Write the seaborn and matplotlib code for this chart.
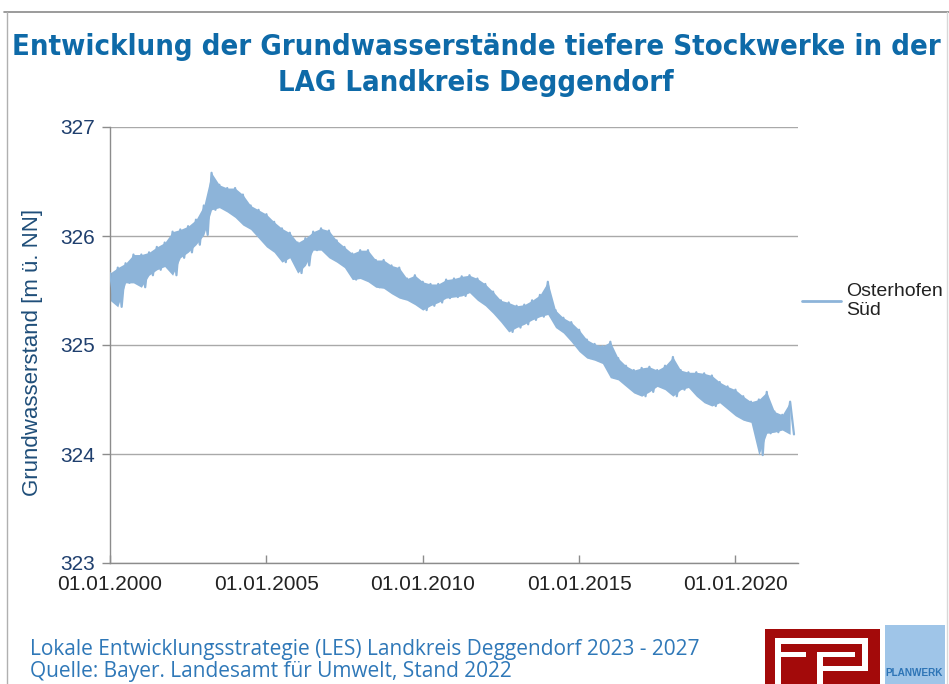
import numpy as np
import pandas as pd
import matplotlib
matplotlib.use("Agg")
import matplotlib.pyplot as plt
import matplotlib.dates as mdates
from matplotlib.patches import Rectangle
from matplotlib.lines import Line2D
import seaborn as sns

# ---------------- data ----------------
series_name = "Osterhofen\nSüd"
first_quarter = "2000-01-01"
# quarterly upper envelope of the daily groundwater level [m ü. NN], 2000Q1 .. 2021Q4
level_high = [
    325.66, 325.71, 325.75, 325.83,
    325.83, 325.85, 325.90, 325.94,
    326.04, 326.06, 326.09, 326.15,
    326.28, 326.58, 326.47, 326.44,
    326.44, 326.38, 326.28, 326.24,
    326.20, 326.13, 326.07, 326.03,
    325.94, 325.98, 326.04, 326.07,
    326.05, 325.96, 325.90, 325.84,
    325.87, 325.87, 325.78, 325.78,
    325.73, 325.71, 325.61, 325.64,
    325.58, 325.56, 325.56, 325.60,
    325.61, 325.63, 325.64, 325.61,
    325.56, 325.49, 325.41, 325.39,
    325.36, 325.37, 325.41, 325.46,
    325.58, 325.32, 325.25, 325.21,
    325.14, 325.05, 325.01, 324.99,
    325.03, 324.88, 324.81, 324.77,
    324.79, 324.80, 324.77, 324.81,
    324.89, 324.77, 324.75, 324.75,
    324.74, 324.72, 324.66, 324.62,
    324.59, 324.53, 324.48, 324.50,
    324.57, 324.39, 324.36, 324.48,
]
# quarterly lower envelope
level_low = [
    325.41, 325.35, 325.57, 325.57,
    325.53, 325.64, 325.69, 325.72,
    325.64, 325.80, 325.85, 325.92,
    326.01, 326.24, 326.26, 326.22,
    326.17, 326.10, 326.06, 325.98,
    325.90, 325.85, 325.76, 325.80,
    325.66, 325.73, 325.87, 325.87,
    325.80, 325.76, 325.71, 325.60,
    325.61, 325.58, 325.53, 325.52,
    325.47, 325.43, 325.41, 325.37,
    325.32, 325.36, 325.39, 325.43,
    325.44, 325.45, 325.48, 325.41,
    325.36, 325.29, 325.21, 325.12,
    325.16, 325.19, 325.23, 325.26,
    325.28, 325.16, 325.11, 325.03,
    324.94, 324.88, 324.86, 324.83,
    324.70, 324.68, 324.62, 324.56,
    324.53, 324.57, 324.62, 324.59,
    324.53, 324.59, 324.61, 324.53,
    324.47, 324.44, 324.47, 324.41,
    324.35, 324.31, 324.29, 323.99,
    324.19, 324.20, 324.22, 324.18,
]
y_ticks = [323, 324, 325, 326, 327]
x_tick_dates = ["2000-01-01", "2005-01-01", "2010-01-01", "2015-01-01", "2020-01-01"]
x_limits = ["2000-01-01", "2022-01-01"]

title = "Entwicklung der Grundwasserstände tiefere Stockwerke in der\nLAG Landkreis Deggendorf"
y_label = "Grundwasserstand [m ü. NN]"
footer1 = "Lokale Entwicklungsstrategie (LES) Landkreis Deggendorf 2023 - 2027"
footer2 = "Quelle: Bayer. Landesamt für Umwelt, Stand 2022"

# ---------------- build table ----------------
q_dates = pd.date_range(first_quarter, periods=len(level_high), freq="QS")
mid_dates = q_dates + pd.Timedelta(days=45)
dates = np.empty(2 * len(q_dates), dtype="datetime64[ns]")
dates[0::2] = q_dates.values
dates[1::2] = mid_dates.values
vals = np.empty(2 * len(q_dates))
vals[0::2] = level_high
vals[1::2] = level_low
df = pd.DataFrame({"Datum": dates, "Grundwasserstand": vals})

# ---------------- style ----------------
sns.set_theme(style="white")
plt.rcParams["font.family"] = ["Liberation Sans", "DejaVu Sans"]

LINE = "#8db4d9"
W, H = 949, 684
fig = plt.figure(figsize=(W / 100, H / 100), dpi=100)
fig.patch.set_facecolor("white")

ax = fig.add_axes([110 / W, 1 - 563 / H, (798 - 110) / W, (563 - 127) / H])
ax.set_facecolor("white")

ax.fill_between(q_dates, level_low, level_high, color=LINE, lw=0, alpha=1.0, zorder=2)
sns.lineplot(data=df, x="Datum", y="Grundwasserstand", ax=ax, color=LINE,
             lw=1.6, estimator=None, sort=False, zorder=3)

ax.set_xlim(pd.Timestamp(x_limits[0]), pd.Timestamp(x_limits[1]))
ax.set_ylim(y_ticks[0], y_ticks[-1])
ax.set_yticks(y_ticks)
ax.set_xticks([pd.Timestamp(d) for d in x_tick_dates])
ax.xaxis.set_major_formatter(mdates.DateFormatter("%d.%m.%Y"))

ax.grid(axis="y", color="#a9a9a9", lw=1.0)
ax.grid(axis="x", visible=False)
ax.set_axisbelow(True)
for s in ["top", "right"]:
    ax.spines[s].set_visible(False)
for s in ["left", "bottom"]:
    ax.spines[s].set_color("#8c8c8c")
    ax.spines[s].set_linewidth(1.0)

ax.tick_params(axis="y", direction="out", length=6, width=1, color="#8c8c8c",
               labelsize=15, labelcolor="#1f3f6e", pad=5, left=True)
ax.tick_params(axis="x", direction="in", length=6, width=1, color="#8c8c8c",
               labelsize=15, labelcolor="#222222", pad=9, bottom=True)
ax.set_xlabel("")
ax.set_ylabel(y_label, fontsize=16, color="#1f4e79")
ax.yaxis.set_label_coords(-0.097, 0.484)

# legend
handle = Line2D([], [], color=LINE, lw=2)
leg = ax.legend([handle], [series_name], loc="center left",
                bbox_to_anchor=(802 / W, 1 - 301 / H), bbox_transform=fig.transFigure,
                frameon=False, fontsize=14, handlelength=2.0, handletextpad=0.25,
                borderaxespad=0, borderpad=0, labelcolor="#222222")

# title
fig.text(476 / W, 1 - 65 / H, title, ha="center", va="center", fontsize=21,
         fontweight="bold", color="#0e6aa8", family="DejaVu Sans",
         fontstretch="condensed", linespacing=1.35)

# footer
fig.text(30 / W, 1 - 650 / H, footer1, ha="left", va="center", fontsize=15,
         color="#2f78b8", family="Open Sans")
fig.text(30 / W, 1 - 672 / H, footer2, ha="left", va="center", fontsize=15,
         color="#2f78b8", family="Open Sans")

# slide frame
fig.add_artist(Line2D([4 / W, 1], [1 - 12 / H, 1 - 12 / H], transform=fig.transFigure,
                      color="#8a8a8a", lw=1.2))
fig.add_artist(Line2D([7 / W, 7 / W], [0, 1 - 12 / H], transform=fig.transFigure,
                      color="#b0b0b0", lw=1.0))
fig.add_artist(Line2D([947 / W, 947 / W], [0, 1 - 12 / H], transform=fig.transFigure,
                      color="#d8d8d8", lw=1.0))

# logos
def frect(x0, y0, x1, y1, **kw):
    fig.add_artist(Rectangle((x0 / W, 1 - y1 / H), (x1 - x0) / W, (y1 - y0) / H,
                             transform=fig.transFigure, **kw))

RED = "#a30a0a"
frect(765, 629, 880, 684, color=RED, lw=0)
frect(775, 638, 868, 644, color="white", lw=0)     # top bar
frect(775, 638, 781, 684, color="white", lw=0)     # F stem
frect(781, 652, 806, 657, color="white", lw=0)     # F middle bar
frect(817, 652, 823, 684, color="white", lw=0)     # P stem
frect(862, 638, 868, 670, color="white", lw=0)     # P bowl right
frect(823, 652, 855, 657, color="white", lw=0)     # P bowl top inner
frect(823, 666, 868, 671, color="white", lw=0)     # P bowl bottom
frect(885, 625, 945, 684, color="#9fc5e8", lw=0)
fig.text(914 / W, 1 - 673 / H, "PLANWERK", ha="center", va="center", fontsize=7.2,
         fontweight="bold", color="#2e75b6")

fig.savefig("out.png", dpi=100, facecolor="white")
